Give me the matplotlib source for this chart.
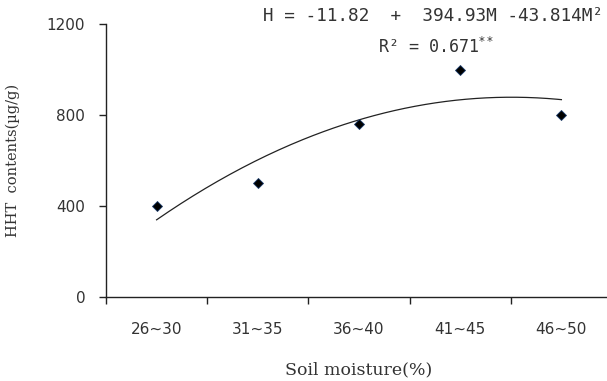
import numpy as np
import matplotlib
matplotlib.use("Agg")
import matplotlib.pyplot as plt

categories = ["26~30", "31~35", "36~40", "41~45", "46~50"]
hht = [400, 500, 760, 1000, 800]
# trendline coefficients as printed on the chart: H = a + b*M + c*M^2
coef_a, coef_b, coef_c = -11.82, 394.93, -43.814
y_ticks = [0, 400, 800, 1200]

fig = plt.figure(figsize=(6.07, 3.81), dpi=100)
ax = fig.add_axes([106/607, (381-297)/381, 506/607, 273/381])

pos = np.arange(1, len(categories) + 1)
m = np.linspace(pos[0], pos[-1], 200)
ax.plot(m, coef_a + coef_b*m + coef_c*m**2, color="#222222", lw=0.9)
ax.plot(pos, hht, ls="none", marker="D", ms=5.5, mfc="black", mec="#1a3a6a", mew=0.6)

ax.set_xlim(0.5, len(categories) + 0.5)
ax.set_ylim(0, 1200)
ax.set_yticks(y_ticks)
ax.set_xticks(np.arange(0.5, len(categories) + 1, 1))
ax.set_xticklabels([])
ax.set_xticks(pos, minor=True)
ax.set_xticklabels(categories, minor=True)
ax.tick_params(axis="x", which="major", direction="out", length=5, width=1, color="#222")
ax.tick_params(axis="x", which="minor", length=0, pad=18, labelsize=11, labelcolor="#333")
ax.tick_params(axis="y", direction="out", length=5, width=1, color="#222", pad=10, labelsize=11, labelcolor="#333")
for s in ["top", "right"]:
    ax.spines[s].set_visible(False)
for s in ["left", "bottom"]:
    ax.spines[s].set_color("#222")
    ax.spines[s].set_linewidth(1)

serif = "DejaVu Serif"
ax.set_ylabel("HHT  contents(µg/g)", family=serif, fontsize=10.5, color="#333")
ax.yaxis.set_label_coords(-0.17, 0.5)
ax.set_xlabel("Soil moisture(%)", family=serif, fontsize=12.5, color="#333")
ax.xaxis.set_label_coords(0.5, -0.235)

mono = "DejaVu Sans Mono"
fig.text(263/607, 1 - 16/381, "H = -11.82  +  394.93M -43.814M²", family=mono,
         fontsize=12.8, color="#333", ha="left", va="center")
fig.text(378/607, 1 - 47/381, r"R² = 0.671$^{**}$", family=mono,
         fontsize=12, color="#333", ha="left", va="center")

fig.savefig("out.png", dpi=100)
